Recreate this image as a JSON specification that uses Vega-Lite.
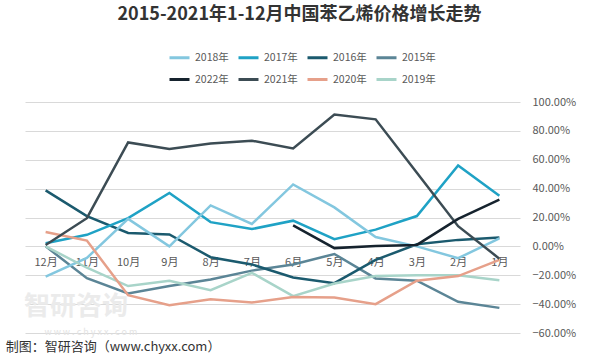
{
  "$schema": "https://vega.github.io/schema/vega-lite/v6.json",
  "width": 495,
  "height": 231,
  "autosize": "none",
  "padding": {"left": 25, "top": 102, "right": 80, "bottom": 27},
  "background": "white",
  "title": {
    "text": "2015-2021年1-12月中国苯乙烯价格增长走势",
    "font": "Noto Sans CJK SC",
    "fontSize": 18,
    "fontWeight": "bold",
    "color": "#333333",
    "anchor": "middle",
    "dx": 27,
    "offset": 22
  },
  "config": {
    "view": {"stroke": null},
    "font": "Noto Sans CJK SC",
    "axis": {"labelOverlap": false},
    "axisX": {
      "orient": "bottom",
      "offset": -86.5,
      "domain": false,
      "ticks": false,
      "grid": false,
      "labelAngle": 0,
      "labelPadding": 10,
      "labelFontSize": 11,
      "labelColor": "#595959",
      "labelFont": "Noto Sans CJK SC"
    },
    "axisY": {
      "orient": "right",
      "labelOverlap": false,
      "domain": false,
      "ticks": false,
      "grid": true,
      "gridColor": "#d9d9d9",
      "gridWidth": 1,
      "labelPadding": 12,
      "labelFontSize": 11,
      "labelColor": "#595959",
      "labelFont": "Noto Sans CJK SC"
    }
  },
  "data": {
    "values": [
      {"year": "2015年", "month": "1月", "value": -0.426},
      {"year": "2015年", "month": "2月", "value": -0.384},
      {"year": "2015年", "month": "3月", "value": -0.238},
      {"year": "2015年", "month": "4月", "value": -0.222},
      {"year": "2015年", "month": "5月", "value": -0.053},
      {"year": "2015年", "month": "6月", "value": -0.125},
      {"year": "2015年", "month": "7月", "value": -0.168},
      {"year": "2015年", "month": "8月", "value": -0.230},
      {"year": "2015年", "month": "9月", "value": -0.274},
      {"year": "2015年", "month": "10月", "value": -0.326},
      {"year": "2015年", "month": "11月", "value": -0.220},
      {"year": "2015年", "month": "12月", "value": 0.0},
      {"year": "2016年", "month": "1月", "value": 0.061},
      {"year": "2016年", "month": "2月", "value": 0.045},
      {"year": "2016年", "month": "3月", "value": 0.015},
      {"year": "2016年", "month": "4月", "value": -0.094},
      {"year": "2016年", "month": "5月", "value": -0.255},
      {"year": "2016年", "month": "6月", "value": -0.215},
      {"year": "2016年", "month": "7月", "value": -0.125},
      {"year": "2016年", "month": "8月", "value": -0.075},
      {"year": "2016年", "month": "9月", "value": 0.083},
      {"year": "2016年", "month": "10月", "value": 0.093},
      {"year": "2016年", "month": "11月", "value": 0.210},
      {"year": "2016年", "month": "12月", "value": 0.388},
      {"year": "2017年", "month": "1月", "value": 0.350},
      {"year": "2017年", "month": "2月", "value": 0.560},
      {"year": "2017年", "month": "3月", "value": 0.210},
      {"year": "2017年", "month": "4月", "value": 0.116},
      {"year": "2017年", "month": "5月", "value": 0.050},
      {"year": "2017年", "month": "6月", "value": 0.178},
      {"year": "2017年", "month": "7月", "value": 0.120},
      {"year": "2017年", "month": "8月", "value": 0.168},
      {"year": "2017年", "month": "9月", "value": 0.370},
      {"year": "2017年", "month": "10月", "value": 0.196},
      {"year": "2017年", "month": "11月", "value": 0.080},
      {"year": "2017年", "month": "12月", "value": 0.022},
      {"year": "2018年", "month": "1月", "value": 0.055},
      {"year": "2018年", "month": "2月", "value": -0.082},
      {"year": "2018年", "month": "3月", "value": 0.0},
      {"year": "2018年", "month": "4月", "value": 0.065},
      {"year": "2018年", "month": "5月", "value": 0.270},
      {"year": "2018年", "month": "6月", "value": 0.429},
      {"year": "2018年", "month": "7月", "value": 0.155},
      {"year": "2018年", "month": "8月", "value": 0.284},
      {"year": "2018年", "month": "9月", "value": 0.0},
      {"year": "2018年", "month": "10月", "value": 0.190},
      {"year": "2018年", "month": "11月", "value": -0.080},
      {"year": "2018年", "month": "12月", "value": -0.210},
      {"year": "2019年", "month": "1月", "value": -0.234},
      {"year": "2019年", "month": "2月", "value": -0.200},
      {"year": "2019年", "month": "3月", "value": -0.200},
      {"year": "2019年", "month": "4月", "value": -0.206},
      {"year": "2019年", "month": "5月", "value": -0.257},
      {"year": "2019年", "month": "6月", "value": -0.345},
      {"year": "2019年", "month": "7月", "value": -0.183},
      {"year": "2019年", "month": "8月", "value": -0.303},
      {"year": "2019年", "month": "9月", "value": -0.238},
      {"year": "2019年", "month": "10月", "value": -0.275},
      {"year": "2019年", "month": "11月", "value": -0.148},
      {"year": "2019年", "month": "12月", "value": 0.0},
      {"year": "2020年", "month": "1月", "value": -0.094},
      {"year": "2020年", "month": "2月", "value": -0.206},
      {"year": "2020年", "month": "3月", "value": -0.238},
      {"year": "2020年", "month": "4月", "value": -0.400},
      {"year": "2020年", "month": "5月", "value": -0.354},
      {"year": "2020年", "month": "6月", "value": -0.350},
      {"year": "2020年", "month": "7月", "value": -0.389},
      {"year": "2020年", "month": "8月", "value": -0.366},
      {"year": "2020年", "month": "9月", "value": -0.408},
      {"year": "2020年", "month": "10月", "value": -0.338},
      {"year": "2020年", "month": "11月", "value": 0.040},
      {"year": "2020年", "month": "12月", "value": 0.100},
      {"year": "2021年", "month": "1月", "value": -0.085},
      {"year": "2021年", "month": "2月", "value": 0.140},
      {"year": "2021年", "month": "3月", "value": 0.510},
      {"year": "2021年", "month": "4月", "value": 0.880},
      {"year": "2021年", "month": "5月", "value": 0.913},
      {"year": "2021年", "month": "6月", "value": 0.678},
      {"year": "2021年", "month": "7月", "value": 0.732},
      {"year": "2021年", "month": "8月", "value": 0.713},
      {"year": "2021年", "month": "9月", "value": 0.674},
      {"year": "2021年", "month": "10月", "value": 0.720},
      {"year": "2021年", "month": "11月", "value": 0.195},
      {"year": "2021年", "month": "12月", "value": 0.010},
      {"year": "2022年", "month": "1月", "value": 0.324},
      {"year": "2022年", "month": "2月", "value": 0.190},
      {"year": "2022年", "month": "3月", "value": 0.010},
      {"year": "2022年", "month": "4月", "value": 0.003},
      {"year": "2022年", "month": "5月", "value": -0.012},
      {"year": "2022年", "month": "6月", "value": 0.146}
    ]
  },
  "layer": [
    {
      "data": {"values": [{"note": "watermark", "text": "智研咨询", "month": "11月", "value": -0.42}]},
      "mark": {"type": "text", "fontSize": 26, "fontWeight": "bold", "color": "#ebebeb", "align": "center", "baseline": "middle", "dx": -11},
      "encoding": {
        "x": {"field": "month", "type": "ordinal", "sort": ["12月", "11月", "10月", "9月", "8月", "7月", "6月", "5月", "4月", "3月", "2月", "1月"]},
        "y": {"field": "value", "type": "quantitative"},
        "text": {"field": "text"}
      }
    },
    {
      "data": {"values": [{"note": "watermark", "text": "w w w . c h y x x . c o m", "month": "11月", "value": -0.595}]},
      "mark": {"type": "text", "fontSize": 9, "color": "#e3e3e3", "align": "center", "baseline": "middle", "dx": 4},
      "encoding": {
        "x": {"field": "month", "type": "ordinal", "sort": ["12月", "11月", "10月", "9月", "8月", "7月", "6月", "5月", "4月", "3月", "2月", "1月"]},
        "y": {"field": "value", "type": "quantitative"},
        "text": {"field": "text"}
      }
    },
    {
      "mark": {"type": "line", "strokeWidth": 2.5, "strokeJoin": "miter"},
      "encoding": {
        "x": {
          "field": "month",
          "type": "ordinal",
          "sort": ["12月", "11月", "10月", "9月", "8月", "7月", "6月", "5月", "4月", "3月", "2月", "1月"],
          "scale": {"type": "point", "padding": 0.5},
          "axis": {"title": null}
        },
        "y": {
          "field": "value",
          "type": "quantitative",
          "scale": {"domain": [-0.6, 1.0], "nice": false, "zero": false},
          "axis": {
            "title": null,
            "values": [-0.6, -0.4, -0.2, 0, 0.2, 0.4, 0.6, 0.8, 1.0],
            "tickCount": 12,
            "format": ".2%",
            "labelOverlap": false
          }
        },
        "color": {
          "field": "year",
          "type": "nominal",
          "scale": {
            "domain": ["2018年", "2017年", "2016年", "2015年", "2022年", "2021年", "2020年", "2019年"],
            "range": ["#83c7df", "#1fa2c5", "#1b5a6e", "#5b8596", "#16232e", "#3c4c54", "#e6a08a", "#a8d4c9"]
          },
          "legend": {
            "title": null,
            "orient": "none",
            "legendX": 143,
            "legendY": -56,
            "direction": "horizontal",
            "columns": 4,
            "symbolType": "stroke",
            "symbolStrokeWidth": 3,
            "symbolSize": 400,
            "labelFontSize": 10.5,
            "labelColor": "#595959",
            "labelFont": "Noto Sans CJK SC",
            "labelOffset": 4,
            "columnPadding": 3,
            "rowPadding": 4
          }
        }
      }
    },
    {
      "data": {"values": [{"note": "source", "text": "制图：智研咨询（www.chyxx.com）", "month": "12月", "value": -0.70}]},
      "mark": {"type": "text", "fontSize": 13, "color": "#333333", "align": "left", "baseline": "middle", "dx": -40},
      "encoding": {
        "x": {"field": "month", "type": "ordinal", "sort": ["12月", "11月", "10月", "9月", "8月", "7月", "6月", "5月", "4月", "3月", "2月", "1月"]},
        "y": {"field": "value", "type": "quantitative"},
        "text": {"field": "text"}
      }
    }
  ]
}
